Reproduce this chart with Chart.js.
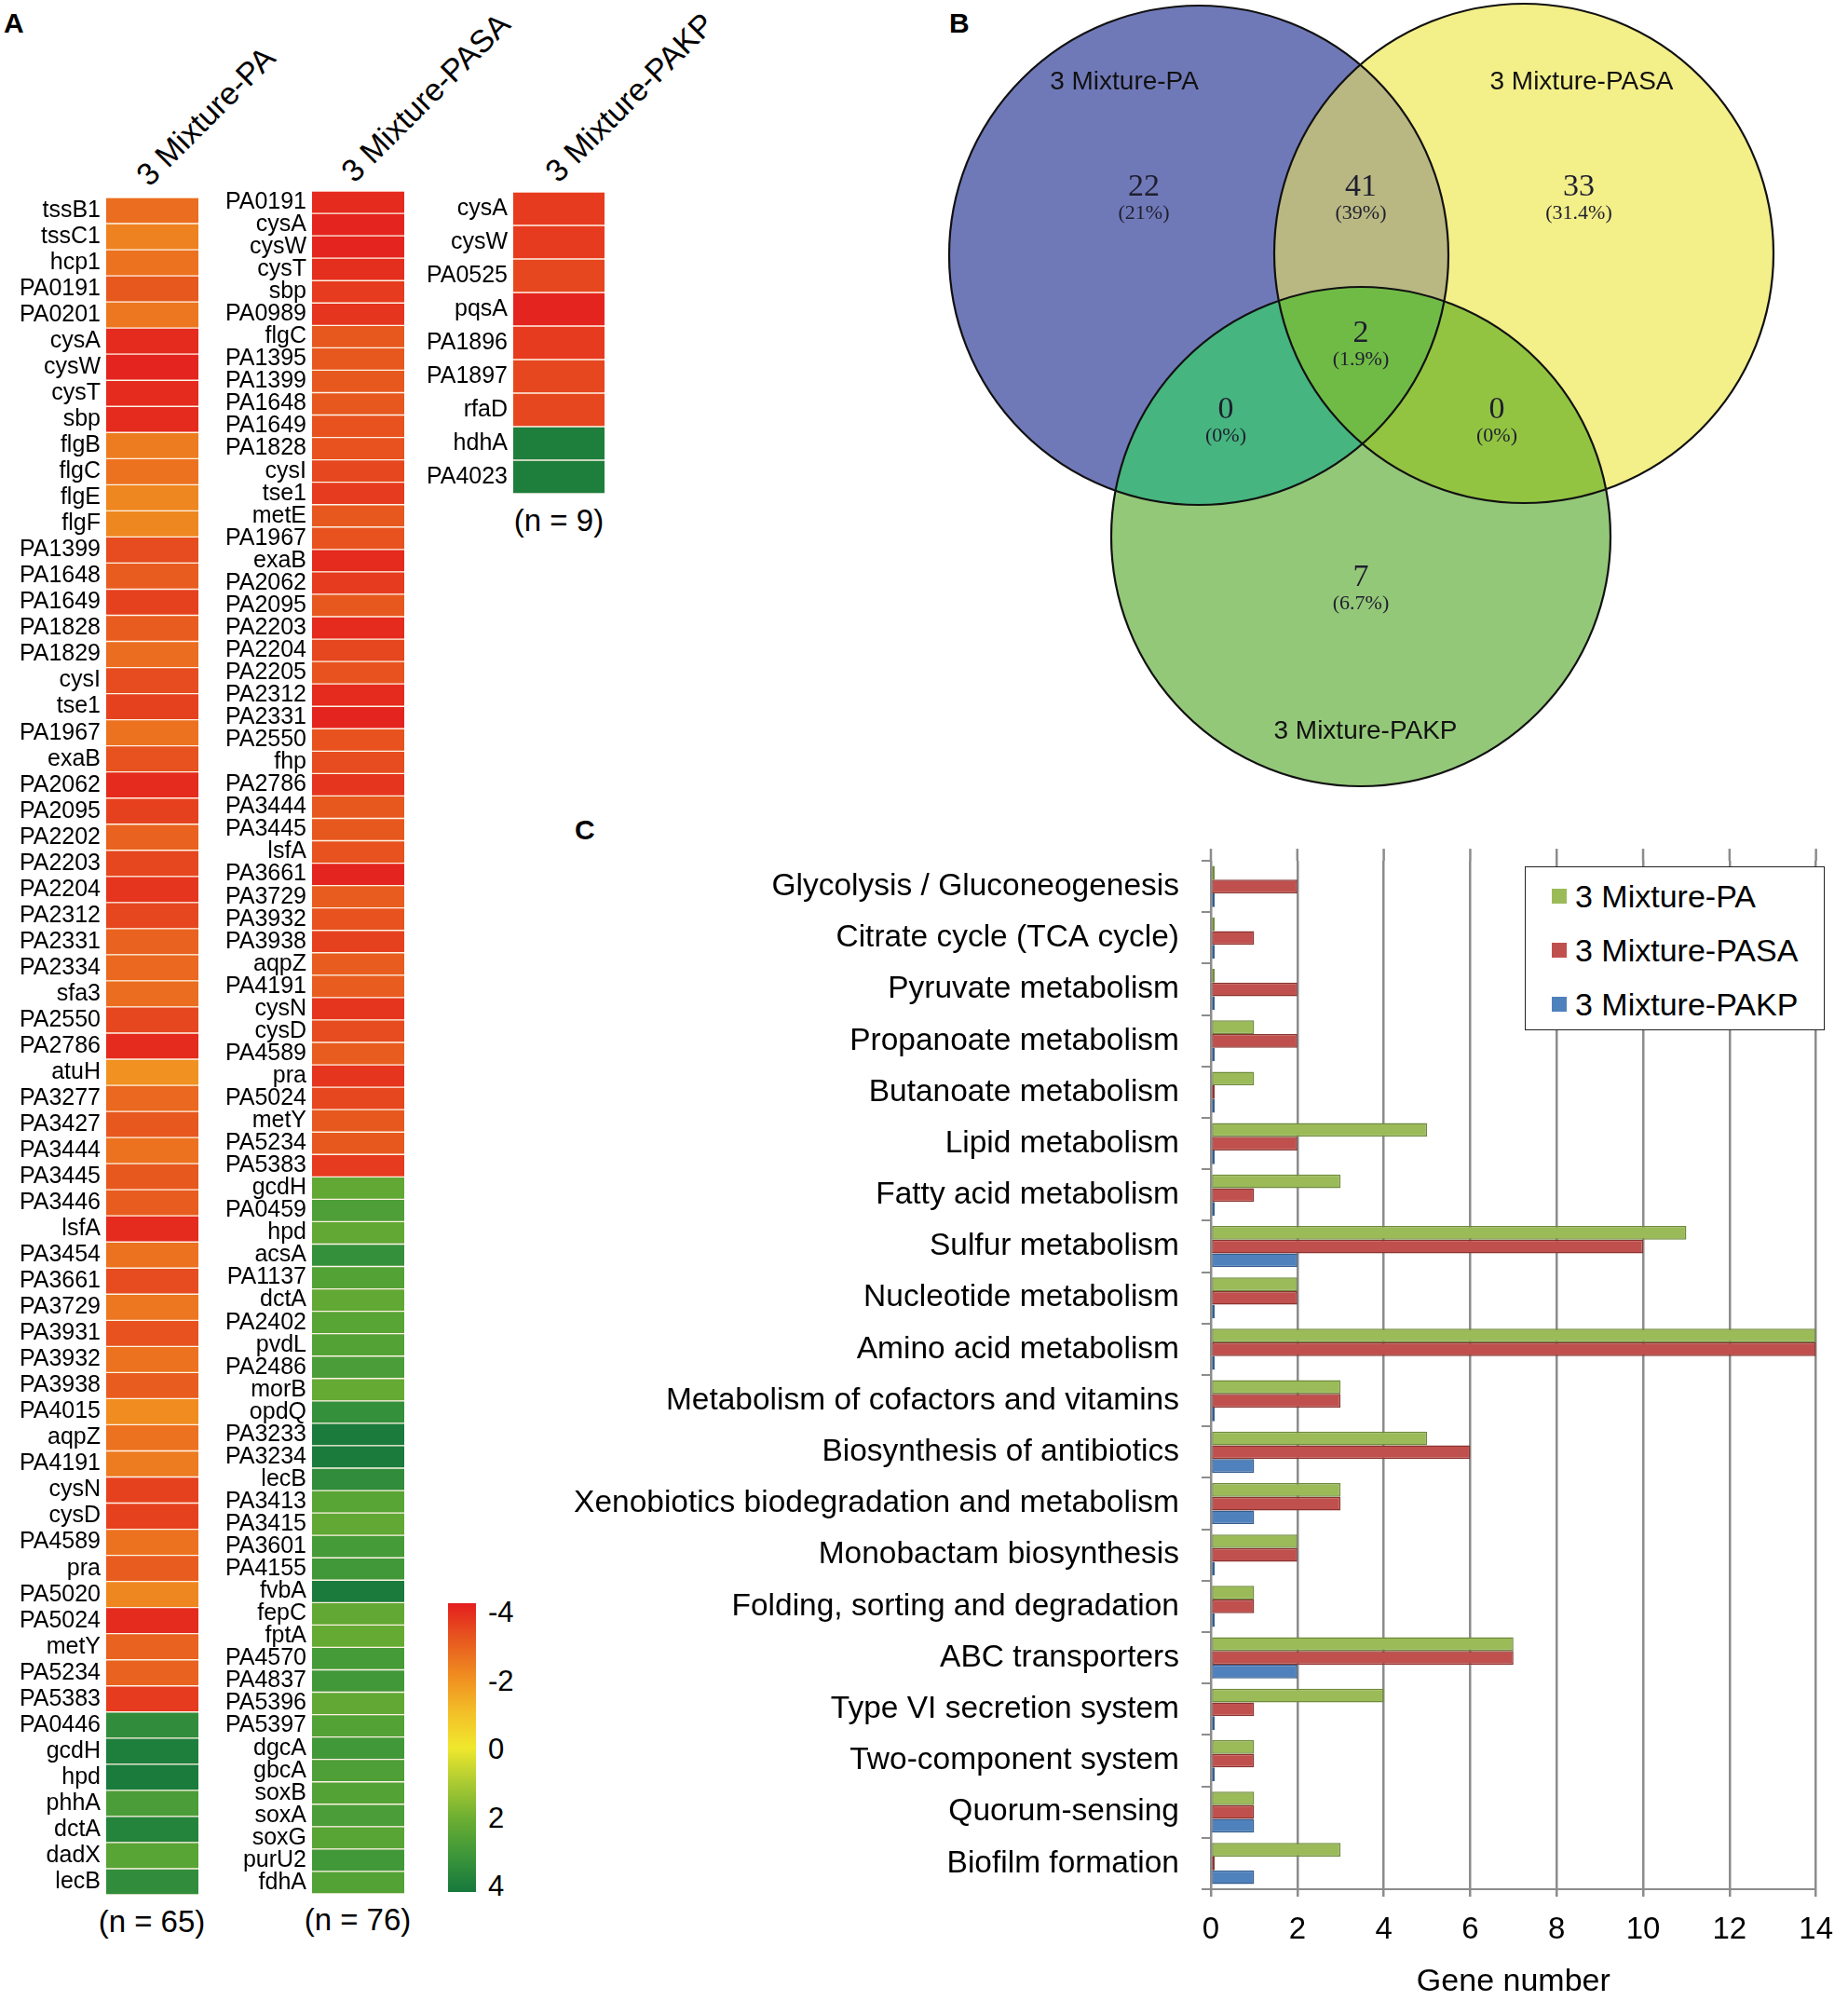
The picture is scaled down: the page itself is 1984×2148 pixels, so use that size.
<!DOCTYPE html>
<html>
<head>
<meta charset="utf-8">
<script src="https://cdn.jsdelivr.net/npm/chart.js@4"></script>
<style>
body { margin:0; width:1984px; height:2148px; background:#fff; position:relative; overflow:hidden;
       font-family:"Liberation Sans", Arial, sans-serif; color:#000; }
canvas, .abs { position:absolute; }
.panel { font-weight:bold; font-size:30px; }
.head { font-size:34px; line-height:34px; height:34px; white-space:nowrap; transform-origin:0 100%; transform:rotate(-45deg); }
.n { font-size:33px; white-space:nowrap; transform:translate(-50%, -50%); }
.cb { font-size:31px; transform:translateY(-50%); }
#legendC { border:1.5px solid #222; background:#fff; box-sizing:border-box; padding:2px 0 0 28px; }
#legendC div { font-size:34px; line-height:58px; height:58px; white-space:nowrap; }
#legendC span { display:inline-block; width:16px; height:16px; margin-right:9px; vertical-align:middle; position:relative; top:-3px; }
</style>
</head>
<body>

<div class="abs panel" style="left:4px; top:8px;">A</div>
<div class="abs panel" style="left:1019px; top:8px;">B</div>
<div class="abs panel" style="left:617px; top:874px;">C</div>

<div class="abs head" style="left:164px; top:171px;">3 Mixture-PA</div>
<div class="abs head" style="left:384px; top:167px;">3 Mixture-PASA</div>
<div class="abs head" style="left:603px; top:167px;">3 Mixture-PAKP</div>

<canvas id="heatPA" width="213" height="1822" style="left:0; top:212px;"></canvas>
<canvas id="heatPASA" width="214" height="1828" style="left:220px; top:205px;"></canvas>
<canvas id="heatPAKP" width="209" height="324" style="left:440px; top:206px;"></canvas>

<div class="abs n" style="left:163px; top:2063px;">(n = 65)</div>
<div class="abs n" style="left:384px; top:2061px;">(n = 76)</div>
<div class="abs n" style="left:600px; top:559px;">(n = 9)</div>

<div id="colorbar" class="abs" style="left:481px; top:1721px; width:30px; height:310px;"></div>

<canvas id="venn" width="984" height="860" style="left:1000px; top:0;"></canvas>
<canvas id="barC" width="1384" height="1268" style="left:600px; top:880px;"></canvas>
<div id="legendC" class="abs" style="left:1637px; top:930px; width:322px; height:176px;"></div>

<script>
Chart.defaults.font.family = '"Liberation Sans", Arial, sans-serif';

// ---- A: heatmaps (log2 fold change) ----
const genesPA = ['tssB1','tssC1','hcp1','PA0191','PA0201','cysA','cysW','cysT','sbp','flgB','flgC','flgE','flgF',
  'PA1399','PA1648','PA1649','PA1828','PA1829','cysI','tse1','PA1967','exaB','PA2062','PA2095','PA2202','PA2203',
  'PA2204','PA2312','PA2331','PA2334','sfa3','PA2550','PA2786','atuH','PA3277','PA3427','PA3444','PA3445','PA3446',
  'lsfA','PA3454','PA3661','PA3729','PA3931','PA3932','PA3938','PA4015','aqpZ','PA4191','cysN','cysD','PA4589',
  'pra','PA5020','PA5024','metY','PA5234','PA5383','PA0446','gcdH','hpd','phhA','dctA','dadX','lecB'];
const foldPA = [-2.6,-2.2,-2.5,-3.0,-2.4,-3.8,-3.9,-3.8,-3.8,-2.3,-2.5,-2.1,-2.1,
  -3.2,-2.9,-3.4,-2.9,-2.6,-3.2,-3.4,-2.5,-3.1,-3.8,-3.4,-2.8,-3.3,
  -3.6,-3.3,-2.8,-2.7,-2.6,-3.3,-3.8,-1.9,-2.7,-3.0,-2.5,-3.0,-2.9,
  -3.8,-2.5,-3.2,-2.4,-3.1,-2.5,-2.9,-2.0,-2.5,-2.3,-3.4,-3.4,-2.5,
  -2.9,-2.1,-3.8,-2.8,-2.8,-3.5,3.3,3.8,3.9,2.7,3.6,2.4,3.3];

const genesPASA = ['PA0191','cysA','cysW','cysT','sbp','PA0989','flgC','PA1395','PA1399','PA1648','PA1649','PA1828',
  'cysI','tse1','metE','PA1967','exaB','PA2062','PA2095','PA2203','PA2204','PA2205','PA2312','PA2331','PA2550','fhp',
  'PA2786','PA3444','PA3445','lsfA','PA3661','PA3729','PA3932','PA3938','aqpZ','PA4191','cysN','cysD','PA4589','pra',
  'PA5024','metY','PA5234','PA5383','gcdH','PA0459','hpd','acsA','PA1137','dctA','PA2402','pvdL','PA2486','morB',
  'opdQ','PA3233','PA3234','lecB','PA3413','PA3415','PA3601','PA4155','fvbA','fepC','fptA','PA4570','PA4837',
  'PA5396','PA5397','dgcA','gbcA','soxB','soxA','soxG','purU2','fdhA'];
const foldPASA = [-3.8,-3.9,-3.9,-3.7,-3.5,-3.6,-3.0,-3.0,-3.0,-3.0,-3.1,-3.1,
  -3.3,-3.5,-3.0,-3.1,-3.8,-3.5,-3.0,-3.8,-3.3,-3.1,-3.8,-3.9,-3.1,-3.2,
  -3.6,-3.0,-3.0,-3.1,-3.9,-2.9,-3.1,-3.4,-2.9,-2.9,-3.6,-3.2,-2.9,-3.6,
  -3.3,-3.0,-3.0,-3.5,2.2,2.6,2.2,3.2,2.5,2.2,2.4,2.5,2.7,2.1,
  3.2,3.9,3.9,3.3,2.4,2.2,2.8,2.9,3.9,2.2,2.1,2.8,2.9,
  2.2,2.5,2.9,2.6,2.5,2.7,2.4,2.9,2.5];

const genesPAKP = ['cysA','cysW','PA0525','pqsA','PA1896','PA1897','rfaD','hdhA','PA4023'];
const foldPAKP = [-3.5,-3.5,-3.3,-3.9,-3.5,-3.3,-3.3,3.8,3.8];

const colorTicks = [-4, -2, 0, 2, 4];

// ---- B: Venn ----
const vennSets = ['3 Mixture-PA', '3 Mixture-PASA', '3 Mixture-PAKP'];
const vennCounts = [22, 41, 33, 2, 0, 0, 7];   // PA, PA&PASA, PASA, all, PA&PAKP, PASA&PAKP, PAKP
const vennPercents = ['(21%)', '(39%)', '(31.4%)', '(1.9%)', '(0%)', '(0%)', '(6.7%)'];

// ---- C: KEGG pathways ----
const pathways = ['Glycolysis / Gluconeogenesis','Citrate cycle (TCA cycle)','Pyruvate metabolism',
  'Propanoate metabolism','Butanoate metabolism','Lipid metabolism','Fatty acid metabolism','Sulfur metabolism',
  'Nucleotide metabolism','Amino acid metabolism','Metabolism of cofactors and vitamins','Biosynthesis of antibiotics',
  'Xenobiotics biodegradation and metabolism','Monobactam biosynthesis','Folding, sorting and degradation',
  'ABC transporters','Type VI secretion system','Two-component system','Quorum-sensing','Biofilm formation'];
const genesPAcount   = [0,0,0,1,1,5,3,11,2,14,3,5,3,2,1,7,4,1,1,3];
const genesPASAcount = [2,1,2,2,0,2,1,10,2,14,3,6,3,2,1,7,1,1,1,0];
const genesPAKPcount = [0,0,0,0,0,0,0,2,0,0,0,1,1,0,0,2,0,0,1,1];

// colour scale used by heatmap + colorbar
const heatStops = [
  [-4, [228, 30, 30]], [-3, [231, 88, 31]], [-2, [240, 140, 32]], [-1, [243, 190, 40]],
  [0, [240, 232, 45]], [1, [170, 202, 50]], [2, [106, 173, 50]], [3, [60, 150, 58]], [4, [22, 120, 60]]
];
function heatColor(v) {
  v = Math.max(-4, Math.min(4, v));
  for (let i = 0; i < heatStops.length - 1; i++) {
    const a = heatStops[i], b = heatStops[i + 1];
    if (v <= b[0]) {
      const t = (v - a[0]) / (b[0] - a[0]);
      const c = a[1].map((x, k) => Math.round(x + (b[1][k] - x) * t));
      return 'rgb(' + c.join(',') + ')';
    }
  }
  return 'rgb(' + heatStops[heatStops.length - 1][1].join(',') + ')';
}

function heatmap(id, genes, values, axisWidth) {
  return new Chart(document.getElementById(id), {
    type: 'bar',
    data: {
      labels: genes,
      datasets: [{
        data: values.map(() => [0, 1]),
        backgroundColor: values.map(heatColor),
        borderColor: 'rgba(255,242,228,0.95)',
        borderWidth: {top: 1, bottom: 1, left: 0, right: 0},
        borderSkipped: false,
        categoryPercentage: 1,
        barPercentage: 1
      }]
    },
    options: {
      indexAxis: 'y', responsive: false, animation: false, events: [],
      plugins: {legend: {display: false}, tooltip: {enabled: false}},
      layout: {padding: 0},
      scales: {
        x: {display: false, min: 0, max: 1},
        y: {
          ticks: {autoSkip: false, font: {size: 25}, color: '#000', padding: 6},
          grid: {display: false, drawTicks: false},
          border: {display: false},
          afterFit(s) { s.width = axisWidth; s.paddingTop = 0; s.paddingBottom = 0; }
        }
      }
    }
  });
}
heatmap('heatPA', genesPA, foldPA, 114);
heatmap('heatPASA', genesPASA, foldPASA, 115);
heatmap('heatPAKP', genesPAKP, foldPAKP, 111);

// colorbar
const cb = document.getElementById('colorbar');
cb.style.background = 'linear-gradient(to bottom,' +
  heatStops.map((s, i) => heatColor(s[0]) + ' ' + (i / (heatStops.length - 1) * 100).toFixed(1) + '%').join(',') + ')';
colorTicks.forEach((t, i) => {
  const d = document.createElement('div');
  d.className = 'abs cb';
  d.style.left = '524px';
  d.style.top = (1731 + i * 73.5) + 'px';
  d.textContent = String(t);
  document.body.appendChild(d);
});

// ---- Venn via bubble chart + region painting plugin ----
const vennLayout = {
  centers: [[287, 274], [636, 272], [461, 576]],
  radius: 268,
  fills: ['#7079b8', '#f3ef89', '#94c879'],
  pairFills: {'0,1': '#b9b883', '0,2': '#46b57f', '1,2': '#92c442', '0,1,2': '#70bb46'},
  namePos: [[207, 88], [698, 88], [466, 785]],
  countPos: [[228, 201], [461, 201], [695, 201], [461, 358], [316, 440], [607, 440], [461, 620]]
};

const vennPlugin = {
  id: 'vennRegions',
  afterDatasetsDraw(chart) {
    const ctx = chart.ctx;
    const sx = chart.scales.x, sy = chart.scales.y;
    const p = chart.data.datasets.map(ds => ({x: sx.getPixelForValue(ds.data[0].x), y: sy.getPixelForValue(ds.data[0].y), r: ds.data[0].r}));
    const circ = c => { ctx.beginPath(); ctx.arc(c.x, c.y, c.r, 0, Math.PI * 2); };
    Object.entries(vennLayout.pairFills).forEach(([key, col]) => {
      ctx.save();
      key.split(',').forEach(i => { circ(p[+i]); ctx.clip(); });
      ctx.fillStyle = col;
      ctx.fillRect(0, 0, chart.width, chart.height);
      ctx.restore();
    });
    ctx.save();
    ctx.strokeStyle = '#111';
    ctx.lineWidth = 2.2;
    p.forEach(c => { circ(c); ctx.stroke(); });
    ctx.textAlign = 'center';
    ctx.textBaseline = 'middle';
    ctx.fillStyle = '#111';
    ctx.font = '28px "Liberation Sans", Arial, sans-serif';
    vennSets.forEach((s, i) => ctx.fillText(s, vennLayout.namePos[i][0], vennLayout.namePos[i][1]));
    ctx.fillStyle = '#1e1e2e';
    vennCounts.forEach((n, i) => {
      const [x, y] = vennLayout.countPos[i];
      ctx.font = '34px "Liberation Serif", serif';
      ctx.fillText(String(n), x, y);
      ctx.font = '22px "Liberation Serif", serif';
      ctx.fillText(vennPercents[i], x, y + 28);
    });
    ctx.restore();
  }
};

new Chart(document.getElementById('venn'), {
  type: 'bubble',
  data: {
    datasets: vennSets.map((s, i) => ({
      label: s,
      data: [{x: vennLayout.centers[i][0], y: vennLayout.centers[i][1], r: vennLayout.radius}],
      backgroundColor: vennLayout.fills[i],
      borderColor: '#111',
      borderWidth: 0,
      order: 2 - i
    }))
  },
  options: {
    responsive: false, animation: false, events: [],
    layout: {padding: 0, autoPadding: false},
    plugins: {legend: {display: false}, tooltip: {enabled: false}},
    scales: {
      x: {display: false, min: 0, max: 984},
      y: {display: false, min: 0, max: 860, reverse: true}
    }
  },
  plugins: [vennPlugin]
});

// ---- C: bar chart ----
// extends the vertical grid lines a bit above the plot, like the 3-D back wall of the original
const wallPlugin = {
  id: 'wallTop',
  beforeDatasetsDraw(chart) {
    const ctx = chart.ctx, x = chart.scales.x, top = chart.chartArea.top;
    ctx.save();
    ctx.strokeStyle = '#8c8c8c';
    ctx.lineWidth = 2.5;
    x.ticks.forEach(t => {
      const px = x.getPixelForValue(t.value);
      ctx.beginPath(); ctx.moveTo(px, top - 13); ctx.lineTo(px, top); ctx.stroke();
    });
    ctx.restore();
  }
};

const barC = new Chart(document.getElementById('barC'), {
  type: 'bar',
  data: {
    labels: pathways,
    datasets: [
      {label: '3 Mixture-PA', data: genesPAcount, backgroundColor: '#9bbb59', borderColor: '#6f8a3c'},
      {label: '3 Mixture-PASA', data: genesPASAcount, backgroundColor: '#c0504d', borderColor: '#8a3431'},
      {label: '3 Mixture-PAKP', data: genesPAKPcount, backgroundColor: '#4f81bd', borderColor: '#345d8c'}
    ]
  },
  options: {
    indexAxis: 'y', responsive: false, animation: false, events: [],
    datasets: {bar: {categoryPercentage: 0.8, barPercentage: 1, minBarLength: 4, borderWidth: 1.5, borderSkipped: false}},
    layout: {padding: {top: 40, right: 24, left: 0, bottom: 0}},
    plugins: {legend: {display: false}, tooltip: {enabled: false}},
    scales: {
      x: {
        min: 0, max: 14,
        ticks: {stepSize: 2, font: {size: 33}, color: '#000', padding: 16},
        grid: {color: '#8c8c8c', lineWidth: 2.5, tickLength: 8},
        border: {color: '#8c8c8c', width: 2},
        title: {display: true, text: 'Gene number', font: {size: 34}, color: '#000', padding: {top: 4, bottom: 0}},
        afterFit(s) { s.height = 120; }
      },
      y: {
        ticks: {font: {size: 33.5}, color: '#000', padding: 24, autoSkip: false},
        grid: {drawOnChartArea: false, offset: true, tickLength: 10, color: '#8c8c8c', lineWidth: 2},
        border: {color: '#8c8c8c', width: 2},
        afterFit(s) { s.width = 700; }
      }
    }
  },
  plugins: [wallPlugin]
});

const lg = document.getElementById('legendC');
barC.data.datasets.forEach(ds => {
  const row = document.createElement('div');
  const sw = document.createElement('span');
  sw.style.background = ds.backgroundColor;
  row.appendChild(sw);
  row.appendChild(document.createTextNode(ds.label));
  lg.appendChild(row);
});
</script>
</body>
</html>
